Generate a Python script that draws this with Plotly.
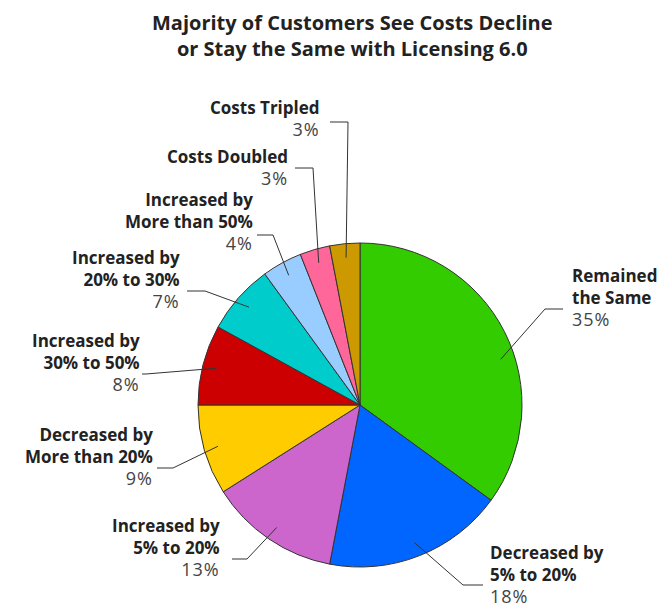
import math
import plotly.graph_objects as go

# ---- data ----
categories = ["Remained the Same", "Decreased by 5% to 20%", "Increased by 5% to 20%",
              "Decreased by More than 20%", "Increased by 30% to 50%", "Increased by 20% to 30%",
              "Increased by More than 50%", "Costs Doubled", "Costs Tripled"]
label_lines = [["Remained", "the Same"], ["Decreased by", "5% to 20%"], ["Increased by", "5% to 20%"],
               ["Decreased by", "More than 20%"], ["Increased by", "30% to 50%"], ["Increased by", "20% to 30%"],
               ["Increased by", "More than 50%"], ["Costs Doubled"], ["Costs Tripled"]]
values = [35, 18, 13, 9, 8, 7, 4, 3, 3]
colors = ["#33CC00", "#0066FF", "#CC66CC", "#FFCC00", "#CC0000", "#00CCCC", "#99CCFF", "#FF6699", "#CC9900"]
title_text = "<b>Majority of Customers See Costs Decline<br>or Stay the Same with Licensing 6.0</b>"

# ---- layout (pixel) ----
W, H = 660, 605
CX, CY, R = 360, 405, 162
FONT = "Open Sans"
# label anchor: (x, y_center, side)  side 'l' => text to left of x (right aligned)
label_pos = [(570, 297, "r"), (488, 574, "r"), (222, 547, "l"), (155, 457, "l"), (142, 362, "l"),
             (182, 279, "l"), (255, 221, "l"), (290, 167, "l"), (322, 118, "l")]
# leader: angle offset (deg), elbow (x,y), end (x,y)
leaders = [(9, (545, 309), (563, 309)), (0, (463, 585), (483, 585)), (0, (247, 559), (232, 559)),
           (0, (173, 468), (157, 468)), (0, (146, 374), (142, 374)), (0, (205, 291), (187, 291)),
           (0, (273, 235), (257, 235)), (0, (313, 168), (295, 168)), (0, (348, 122), (330, 122))]


def px(x):
    return x / W


def py(y):
    return 1 - y / H


fig = go.Figure(go.Pie(
    labels=categories, values=values, sort=False, direction="clockwise", rotation=0,
    marker=dict(colors=colors, line=dict(color="#333333", width=1)),
    textinfo="none", hoverinfo="label+percent", showlegend=False,
    domain=dict(x=[px(CX - R), px(CX + R)], y=[py(CY + R), py(CY - R)]),
))

total = sum(values)
cum = 0
shapes = []
annotations = []
for i, v in enumerate(values):
    mid = (cum + v / 2) / total * 360
    cum += v
    off, elbow, end = leaders[i]
    a = math.radians(mid + off)
    sx = CX + 148 * math.sin(a)
    sy = CY - 148 * math.cos(a)
    path = f"M {px(sx)},{py(sy)} L {px(elbow[0])},{py(elbow[1])} L {px(end[0])},{py(end[1])}"
    shapes.append(dict(type="path", xref="paper", yref="paper", path=path,
                       line=dict(color="#333333", width=1)))
    lx, ly, side = label_pos[i]
    pct = round(v / total * 100)
    txt = ("<br>".join(f"<b>{s}</b>" for s in label_lines[i])
           + f"<br><span style='color:#444444;font-size:18px;letter-spacing:1px'>{pct}%</span>")
    annotations.append(dict(
        x=px(lx), y=py(ly), xref="paper", yref="paper", text=txt, showarrow=False,
        xanchor="left" if side == "r" else "right", yanchor="middle",
        align="left" if side == "r" else "right",
        font=dict(family=FONT, size=17, color="#222222")))

annotations.append(dict(x=px(353), y=py(36), xref="paper", yref="paper", text=title_text,
                        showarrow=False, xanchor="center", yanchor="middle", align="center",
                        font=dict(family=FONT, size=20, color="#222222")))

fig.update_layout(width=W, height=H, margin=dict(l=0, r=0, t=0, b=0),
                  paper_bgcolor="white", plot_bgcolor="white",
                  shapes=shapes, annotations=annotations)
fig.write_html("out.html")
